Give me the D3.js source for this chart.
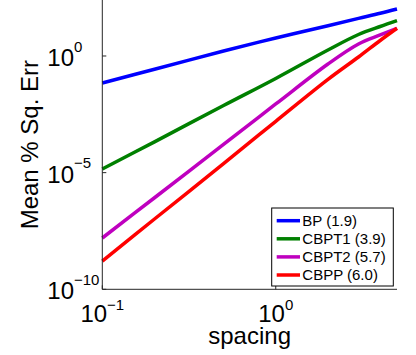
<!DOCTYPE html>
<html>
<head>
<meta charset="utf-8">
<script src="https://cdn.jsdelivr.net/npm/d3@7"></script>
<style>
  body { margin: 0; background: #fff; }
  text { font-family: "Liberation Sans", Arial, Helvetica, sans-serif; fill: #000; }
</style>
</head>
<body>
<div id="chart"></div>
<script>
// spacing values (x) and the error curves
const spacing = [0.1, 0.2, 0.5, 1, 2, 3, 4, 5];
const bp     = [0.0697, 0.269, 1.64, 5.92, 19.9, 40.9, 67.6, 103.5];
const cbpt1  = [1.43e-5, 2.09e-4, 7.55e-3, 0.109, 1.81, 8.35, 18.4, 32.6];
const cbpt2  = [1.58e-8, 8.4e-7, 1.63e-4, 8.77e-3, 0.454, 3.27, 7.94, 15.4];
const cbpp   = [1.63e-9, 1.03e-7, 2.44e-5, 1.59e-3, 0.0993, 0.906, 4.62, 15.4];
const seriesNames = ["BP (1.9)", "CBPT1 (3.9)", "CBPT2 (5.7)", "CBPP (6.0)"];
const colors = ["#0000ff", "#008000", "#bf00bf", "#ff0000"];
const xTicks = [0.1, 1];
const xTickExp = ["\u22121", "0"];
const yTicks = [1e-10, 1e-5, 1];
const yTickExp = ["\u221210", "\u22125", "0"];

const W = 416, H = 355;
const margin = { top: 0, left: 102.3, right: 19, bottom: 65.7 };
const width = W - margin.left - margin.right;
const height = H - margin.top - margin.bottom;

const svg = d3.select("#chart").append("svg")
  .attr("width", W).attr("height", H);
const g = svg.append("g")
  .attr("transform", `translate(${margin.left},${margin.top})`);

const x = d3.scaleLog().domain([0.1, 5]).range([0, width]);
const y = d3.scaleLog().domain([1e-10, 251]).range([height, 0]);

// lines
const all = [bp, cbpt1, cbpt2, cbpp];
const line = d3.line()
  .x(d => x(d[0]))
  .y(d => y(d[1]))
  .curve(d3.curveCatmullRom.alpha(0.5));

all.forEach((vals, i) => {
  g.append("path")
    .datum(spacing.map((s, j) => [s, vals[j]]))
    .attr("fill", "none")
    .attr("stroke", colors[i])
    .attr("stroke-width", 3.5)
    .attr("d", line);
});

// axes (MATLAB style, ticks inside)
const axisColor = "#262626";
g.append("line")
  .attr("x1", 0).attr("x2", 0).attr("y1", 0).attr("y2", height)
  .attr("stroke", axisColor);
g.append("line")
  .attr("x1", 0).attr("x2", width).attr("y1", height).attr("y2", height)
  .attr("stroke", axisColor);

yTicks.forEach((t, i) => {
  g.append("line")
    .attr("x1", 0).attr("x2", 4).attr("y1", y(t)).attr("y2", y(t))
    .attr("stroke", axisColor);
  const lab = g.append("text")
    .attr("x", -55).attr("y", y(t) + 10)
    .style("font-size", "24px");
  lab.append("tspan").text("10");
  lab.append("tspan").attr("dy", -14.3).style("font-size", "15px").text(yTickExp[i]);
});

xTicks.forEach((t, i) => {
  g.append("line")
    .attr("x1", x(t)).attr("x2", x(t)).attr("y1", height).attr("y2", height - 4)
    .attr("stroke", axisColor);
  const lab = g.append("text")
    .attr("x", x(t)).attr("y", 322)
    .attr("text-anchor", "middle")
    .style("font-size", "24px");
  lab.append("tspan").text("10");
  lab.append("tspan").attr("dy", -12.5).style("font-size", "15px").text(xTickExp[i]);
});

// axis labels
g.append("text")
  .attr("x", width / 2).attr("y", 344)
  .attr("text-anchor", "middle")
  .style("font-size", "24px")
  .text("spacing");

g.append("text")
  .attr("transform", "rotate(-90)")
  .attr("x", -height / 2).attr("y", -64.5)
  .attr("text-anchor", "middle")
  .style("font-size", "24px")
  .text("Mean % Sq. Err");

// legend
const lg = svg.append("g").attr("transform", "translate(271.7,208)");
lg.append("rect")
  .attr("width", 121.6).attr("height", 78)
  .attr("fill", "#fff").attr("stroke", "#000").attr("stroke-width", 1);
seriesNames.forEach((name, i) => {
  const cy = 12.7 + i * 18.1;
  lg.append("line")
    .attr("x1", 5).attr("x2", 28.3).attr("y1", cy).attr("y2", cy)
    .attr("stroke", colors[i]).attr("stroke-width", 3.5);
  lg.append("text")
    .attr("x", 30.6).attr("y", cy + 5.4)
    .style("font-size", "15px")
    .text(name);
});
</script>
</body>
</html>
